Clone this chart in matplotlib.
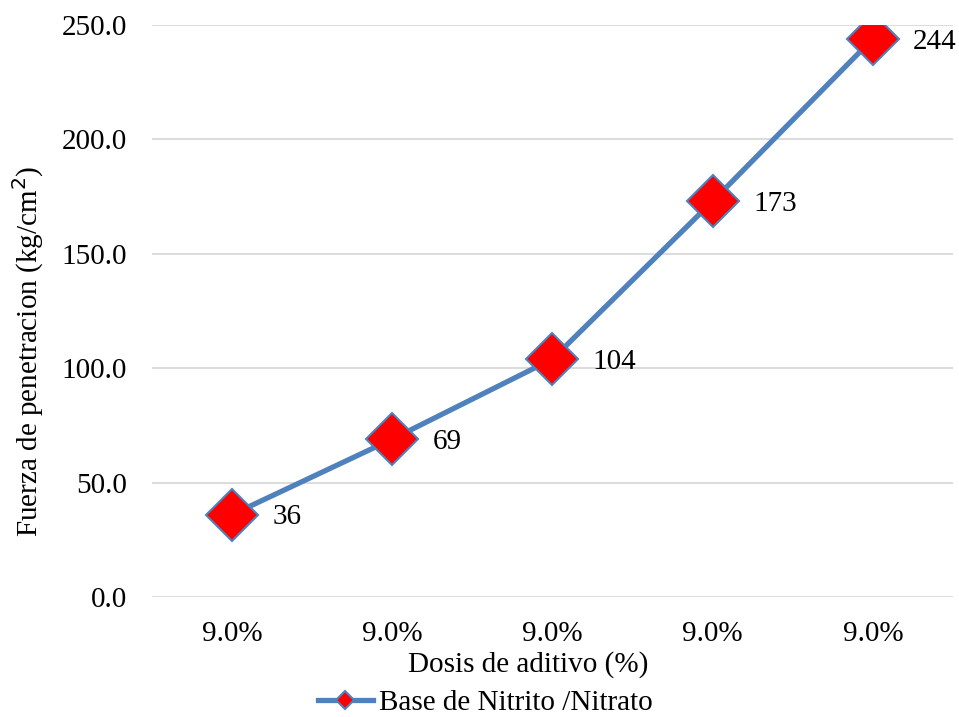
import matplotlib
matplotlib.use('Agg')
import matplotlib.pyplot as plt
import numpy as np

plt.rcParams['font.family'] = ['Liberation Serif', 'DejaVu Serif']

# penetration force per additive dose
dose_labels = ["9.0%", "9.0%", "9.0%", "9.0%", "9.0%"]
fuerza = [36, 69, 104, 173, 244]
y_ticks = [0, 50, 100, 150, 200, 250]

LINE_BLUE = "#4F81BD"
FS = 21

fig = plt.figure(figsize=(9.59, 7.17), dpi=100)
ax = fig.add_axes([0.1585, 0.1674, 0.8352, 0.7977])

x = np.arange(len(fuerza))
ax.plot(x, fuerza, color=LINE_BLUE, linewidth=3.8, marker="D",
        markersize=26, markerfacecolor="red", markeredgecolor=LINE_BLUE,
        markeredgewidth=1.5, label="Base de Nitrito /Nitrato", zorder=3)

for xi, v in zip(x, fuerza):
    ax.annotate(f"{v}", (xi, v), xytext=(29, -2), textcoords="offset points",
                ha="left", va="center", fontsize=FS)

ax.set_xlim(-0.5, len(fuerza) - 0.5)
ax.set_ylim(0, 250)
ax.set_yticks(y_ticks)
ax.set_yticklabels([f"{t:.1f}" for t in y_ticks], fontsize=FS)
ax.set_xticks(x)
ax.set_xticklabels(dose_labels, fontsize=FS)
ax.tick_params(axis="y", length=0, pad=18)
ax.tick_params(axis="x", length=0, pad=17)
ax.grid(axis="y", color="#D9D9D9", linewidth=1.3)
ax.set_axisbelow(True)
for s in ax.spines.values():
    s.set_visible(False)

# axis titles
fig.text(528 / 959, 1 - 665 / 717, "Dosis de aditivo (%)", fontsize=FS,
         ha="center", va="center")
fig.text(28 / 959, 1 - 351 / 717, "Fuerza de penetracion (kg/cm$^2$)",
         fontsize=FS, rotation=90, ha="center", va="center")

fig.legend(loc="center", bbox_to_anchor=(485 / 959, 1 - 703 / 717),
           frameon=False, fontsize=FS, handlelength=1.9, handletextpad=0.2,
           markerscale=0.36, borderpad=0, borderaxespad=0)

fig.savefig("out.png", dpi=100)
